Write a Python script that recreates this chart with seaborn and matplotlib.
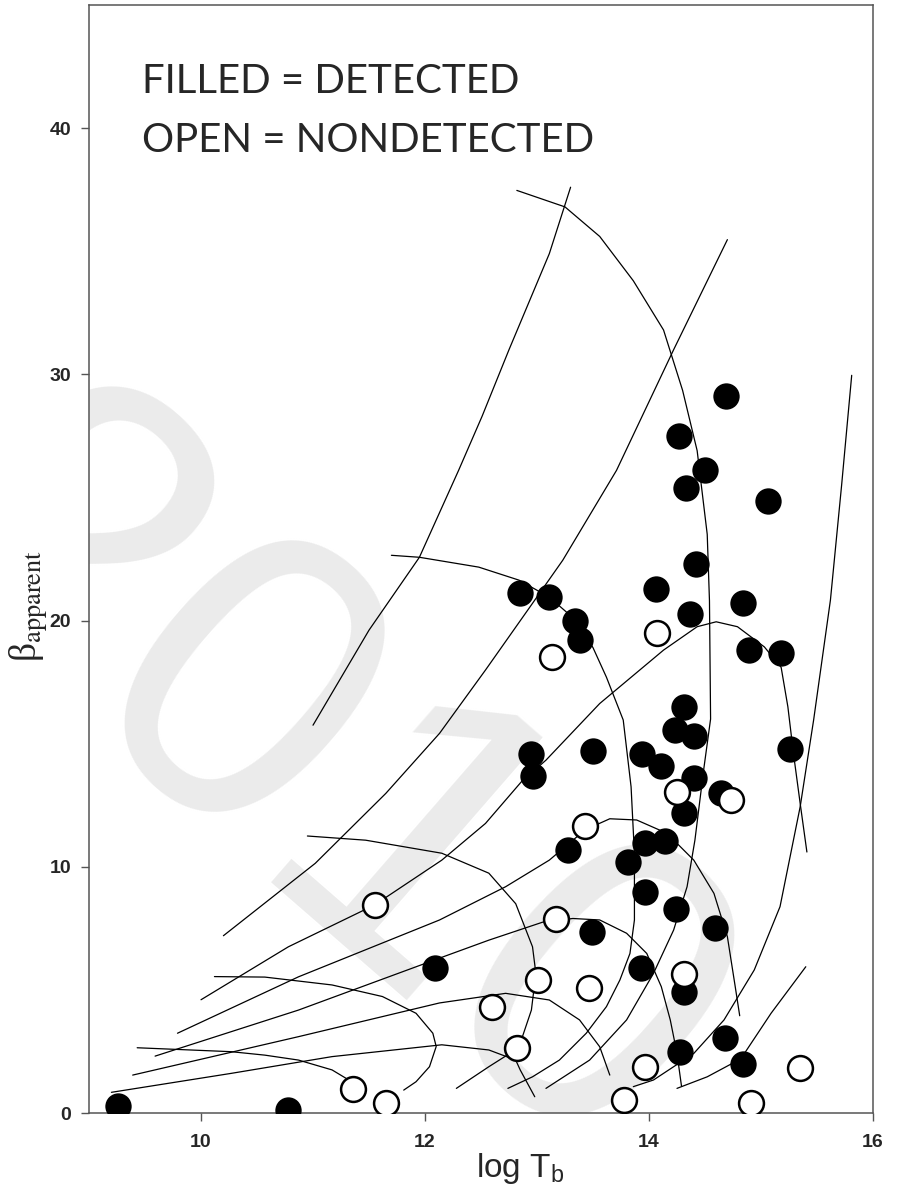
import numpy as np
import pandas as pd
import seaborn as sns
import matplotlib.pyplot as plt

# detected sources (filled circles)
filled_x = [9.26, 10.78, 12.09, 12.85, 13.11, 13.34, 13.38, 12.95, 12.96, 13.50,
            13.28, 13.49, 13.94, 14.11, 14.40, 14.31, 14.64, 14.31, 14.23, 14.40,
            14.69, 14.27, 14.50, 14.33, 15.06, 14.42, 14.06, 14.37, 14.84, 14.89,
            15.18, 15.26, 13.96, 14.14, 13.81, 13.96, 14.24, 14.59, 13.93, 14.31,
            14.68, 14.28, 14.84]
filled_y = [0.28, 0.12, 5.90, 21.1, 20.95, 20.0, 19.2, 14.6, 13.7, 14.7,
            10.7, 7.34, 14.6, 14.1, 13.6, 12.2, 13.0, 16.5, 15.55, 15.3,
            29.1, 27.5, 26.1, 25.4, 24.85, 22.3, 21.3, 20.26, 20.7, 18.8,
            18.7, 14.8, 10.95, 11.05, 10.2, 8.96, 8.27, 7.5, 5.87, 4.93,
            3.03, 2.46, 1.98]

# nondetected sources (open circles)
open_x = [13.13, 14.07, 11.55, 13.43, 14.25, 14.73, 13.17, 13.01, 13.46, 14.31,
          12.60, 12.82, 13.96, 15.35, 13.78, 14.91, 11.36, 11.65]
open_y = [18.5, 19.5, 8.45, 11.65, 13.05, 12.7, 7.86, 5.40, 5.06, 5.64,
          4.29, 2.63, 1.85, 1.81, 0.53, 0.42, 0.96, 0.39]

# model curves, points (log Tb, beta_app)
arc_g2 = [(9.43, 2.65), (10.27, 2.49), (10.57, 2.35), (10.87, 2.15), (11.17, 1.75),
          (11.32, 1.34), (11.36, 0.97)]
arc_g5 = [(10.12, 5.54), (10.57, 5.52), (11.17, 5.20), (11.62, 4.73), (11.92, 4.05),
          (12.07, 3.24), (12.10, 2.70), (12.04, 1.88), (11.92, 1.27), (11.81, 0.93)]
arc_g11 = [(10.95, 11.25), (11.47, 11.08), (12.15, 10.55), (12.57, 9.74), (12.81, 8.50),
           (12.96, 6.75), (12.99, 5.67), (12.95, 4.18), (12.87, 3.10), (12.82, 2.60),
           (12.57, 1.88), (12.28, 1.00)]
arc_g22 = [(11.70, 22.65), (11.95, 22.57), (12.48, 22.17), (12.84, 21.64), (13.11, 20.95),
           (13.35, 20.0), (13.50, 18.9), (13.62, 17.7), (13.77, 15.96), (13.84, 13.25),
           (13.87, 10.54), (13.87, 7.84), (13.83, 6.48), (13.74, 5.40), (13.62, 4.32),
           (13.44, 3.24), (13.20, 2.15), (12.96, 1.47), (12.74, 1.00)]
arc_g37 = [(12.82, 37.47), (13.25, 36.8), (13.56, 35.6), (13.86, 33.8), (14.13, 31.8),
           (14.30, 29.35), (14.43, 26.9), (14.52, 23.5), (14.54, 20.8), (14.55, 16.0),
           (14.49, 14.0), (14.41, 11.08), (14.34, 9.19), (14.22, 7.43), (14.04, 5.67),
           (13.80, 3.78), (13.47, 2.15), (13.08, 1.00)]
curve_s1 = [(9.20, 0.84), (10.27, 1.61), (11.17, 2.29), (12.15, 2.77), (12.57, 2.56),
            (12.81, 2.15), (12.85, 1.75), (12.98, 0.66)]
curve_s2 = [(9.39, 1.54), (10.87, 3.10), (12.13, 4.47), (12.72, 4.86), (13.11, 4.59),
            (13.38, 3.78), (13.56, 2.69), (13.65, 1.54)]
curve_s3 = [(9.59, 2.31), (10.87, 4.18), (12.13, 6.29), (12.57, 7.02), (13.05, 7.75),
            (13.32, 7.90), (13.56, 7.84), (13.80, 7.30), (13.98, 6.48), (14.11, 5.13),
            (14.19, 3.78), (14.25, 2.42), (14.29, 1.10)]
curve_s4 = [(9.79, 3.24), (10.87, 5.53), (12.13, 7.84), (12.72, 9.19), (13.11, 10.27),
            (13.43, 11.5), (13.65, 11.95), (13.89, 11.9), (14.16, 11.36), (14.40, 10.27),
            (14.58, 8.92), (14.70, 7.16), (14.77, 5.13), (14.81, 3.95)]
curve_s5 = [(10.00, 4.60), (10.78, 6.75), (11.55, 8.45), (12.15, 10.27), (12.54, 11.76),
            (12.86, 13.45), (13.08, 14.33), (13.56, 16.63), (14.13, 18.8), (14.43, 19.75),
            (14.60, 19.95), (14.79, 19.75), (15.03, 18.93), (15.18, 18.1), (15.24, 16.5),
            (15.29, 14.6), (15.35, 12.57), (15.41, 10.6)]
curve_r1 = [(11.00, 15.75), (11.50, 19.61), (11.95, 22.57), (12.30, 26.1), (12.51, 28.3),
            (12.75, 31.0), (13.11, 34.9), (13.30, 37.6)]
curve_r2 = [(10.20, 7.20), (11.02, 10.14), (11.65, 12.98), (12.13, 15.42), (12.54, 17.99),
            (12.96, 20.7), (13.23, 22.45), (13.71, 26.1), (14.22, 31.0), (14.70, 35.47)]
curve_r3 = [(15.81, 29.96), (15.72, 25.5), (15.62, 20.83), (15.47, 15.96), (15.35, 12.44),
            (15.17, 8.38), (14.94, 5.81), (14.67, 3.78), (14.40, 2.42), (14.04, 1.34),
            (13.86, 1.07)]
curve_r4 = [(14.25, 1.00), (14.52, 1.47), (14.82, 2.20), (15.09, 4.05), (15.40, 5.94)]

curves = {'g2': arc_g2, 'g5': arc_g5, 'g11': arc_g11, 'g22': arc_g22, 'g37': arc_g37,
          's1': curve_s1, 's2': curve_s2, 's3': curve_s3, 's4': curve_s4, 's5': curve_s5,
          'r1': curve_r1, 'r2': curve_r2, 'r3': curve_r3, 'r4': curve_r4}

rows = []
for name, pts in curves.items():
    for i, (x, y) in enumerate(pts):
        rows.append({'curve': name, 'order': i, 'x': x, 'y': y})
curve_df = pd.DataFrame(rows)

sns.set_style("ticks")
plt.rcParams['font.family'] = ['Liberation Sans', 'DejaVu Sans']
plt.rcParams['mathtext.fontset'] = 'custom'
plt.rcParams['mathtext.rm'] = 'Liberation Sans'
plt.rcParams['mathtext.it'] = 'Liberation Sans:italic'

fig = plt.figure(figsize=(9.01, 11.87), dpi=100)
ax = fig.add_axes([0.0988, 0.06234, 0.8701, 0.93345])

# watermark
ax.text(11.25, 14.3, "2010", fontsize=300, color='#ebebeb',
        family=['Liberation Sans Narrow', 'Liberation Sans'],
        rotation=-41, rotation_mode='anchor', ha='center', va='center_baseline',
        zorder=0, clip_on=True)

sns.lineplot(data=curve_df, x='x', y='y', units='curve', estimator=None, sort=False,
             color='black', linewidth=0.9, legend=False, ax=ax, zorder=2)

sns.scatterplot(x=filled_x, y=filled_y, s=360, color='black', edgecolor='black',
                linewidth=0, ax=ax, zorder=3)
sns.scatterplot(x=open_x, y=open_y, s=320, color='white', edgecolor='black',
                linewidth=1.8, ax=ax, zorder=4)

ax.set_xlim(9, 16)
ax.set_ylim(0, 45)
ax.set_xticks([10, 12, 14, 16])
ax.set_yticks([0, 10, 20, 30, 40])
for sp in ax.spines.values():
    sp.set_visible(True)
    sp.set_color('#555555')
    sp.set_linewidth(1.1)
ax.tick_params(axis='both', direction='out', length=6, width=1.0, color='#555555',
               labelsize=14)
ax.tick_params(axis='x', pad=9)
ax.tick_params(axis='y', pad=7)
for lab in ax.get_xticklabels() + ax.get_yticklabels():
    lab.set_fontweight('bold')

ax.set_xlabel(r'log T$_{\mathrm{b}}$', fontsize=24, va='baseline')
ax.xaxis.set_label_coords(0.55, -0.0578)
ax.set_ylabel(r'β$_{\mathrm{apparent}}$', fontsize=27, family='Liberation Serif',
              math_fontfamily='stix')
ax.yaxis.label.set_va('center')
ax.yaxis.set_label_coords(-0.077, 0.458)

ax.text(0.0676, 0.9206, 'FILLED = DETECTED', transform=ax.transAxes, fontsize=29,
        family=['Lato', 'DejaVu Sans'], va='baseline', ha='left')
ax.text(0.0676, 0.8673, 'OPEN = NONDETECTED', transform=ax.transAxes, fontsize=29,
        family=['Lato', 'DejaVu Sans'], va='baseline', ha='left')

fig.savefig('out.png', dpi=100)
